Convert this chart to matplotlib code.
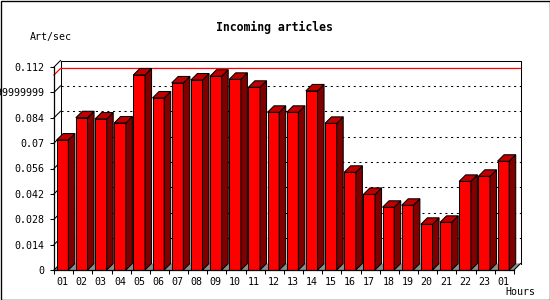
# Incoming articles per hour - 3D style bar chart

import numpy as np
import matplotlib.pyplot as plt
from matplotlib.patches import Polygon, Rectangle

hours = ['01', '02', '03', '04', '05', '06', '07', '08', '09', '10', '11', '12',
         '13', '14', '15', '16', '17', '18', '19', '20', '21', '22', '23', '01']
rates = [0.0717, 0.0840, 0.0833, 0.0811, 0.1076, 0.0949, 0.1032, 0.1048,
         0.1069, 0.1052, 0.1008, 0.0870, 0.0870, 0.0988, 0.0809, 0.0539,
         0.0417, 0.0346, 0.0357, 0.0252, 0.0263, 0.0489, 0.0517, 0.0600]
ytick_vals = [0, 0.014, 0.028, 0.042, 0.056, 0.07, 0.084, 0.098, 0.112]
ytick_labels = ['0', '0.014', '0.028', '0.042', '0.056', '0.07', '0.084',
                '0.09799999999999999', '0.112']

MONO = 'DejaVu Sans Mono'
W, H = 550, 300
depth_px = 6.5

fig = plt.figure(figsize=(W / 100, H / 100), dpi=100)
ax = fig.add_axes([54 / W, 30 / H, 460 / W, 203 / H])
ax.set_xlim(0, len(hours))
ax.set_ylim(0, 0.112)
ax.patch.set_visible(False)

# 3D offset expressed in data units
inv = ax.transData.inverted()
p0 = inv.transform(ax.transData.transform((0, 0)))
p1 = inv.transform(ax.transData.transform((0, 0)) + np.array([depth_px, depth_px]))
dx, dy = p1 - p0

n = len(hours)
ymax = ytick_vals[-1]
line_px = 0.75

# floor
ax.add_patch(Polygon([(0, 0), (n, 0), (n + dx, dy), (dx, dy)], closed=True,
                     facecolor='#8c8c8c', edgecolor='none', zorder=1, clip_on=False))

# back plane: dotted grid, borders, diagonals
for t in ytick_vals[1:-1]:
    ax.plot([dx, n + dx], [t + dy, t + dy], color='black', lw=line_px,
            linestyle=(0, (2, 3.5)), zorder=1, clip_on=False)
for t in ytick_vals:
    ax.plot([0, dx], [t, t + dy], color='black', lw=line_px, zorder=1, clip_on=False)
ax.plot([dx, n + dx, n + dx], [ymax + dy, ymax + dy, dy], color='black', lw=line_px,
        zorder=1, clip_on=False)
ax.plot([dx, dx], [dy, ymax + dy], color='black', lw=line_px, zorder=1, clip_on=False)
ax.plot([n, n + dx], [0, dy], color='black', lw=line_px, zorder=1, clip_on=False)

# max line in red
top = max(rates)
ax.plot([0, dx, n + dx], [top, top + dy, top + dy], color='red', lw=line_px * 1.2,
        zorder=1.5, clip_on=False)

# bars: front face, side and top
x = np.arange(n)
left = x + 0.14
width = 0.61
ax.bar(left, rates, width=width, align='edge', color='#ff0000',
       edgecolor='black', linewidth=line_px, zorder=3)
for xl, v in zip(left, rates):
    xr = xl + width
    ax.add_patch(Polygon([(xr, 0), (xr + dx, dy), (xr + dx, v + dy), (xr, v)],
                         closed=True, facecolor='#800000', edgecolor='black',
                         lw=line_px, zorder=3, clip_on=False))
    ax.add_patch(Polygon([(xl, v), (xr, v), (xr + dx, v + dy), (xl + dx, v + dy)],
                         closed=True, facecolor='#c00000', edgecolor='black',
                         lw=line_px, zorder=3, clip_on=False))

# axes
for s in ['top', 'right']:
    ax.spines[s].set_visible(False)
for s in ['left', 'bottom']:
    ax.spines[s].set_linewidth(line_px * 1.2)
    ax.spines[s].set_zorder(4)

ax.set_yticks(ytick_vals)
ax.set_yticklabels(ytick_labels, fontfamily=MONO, fontsize=7.2)
ax.tick_params(axis='y', length=3, width=line_px, pad=3.6)

ax.set_xticks(np.arange(n + 1))
ax.set_xticklabels([])
ax.set_xticks(left + width / 2, minor=True)
ax.set_xticklabels(hours, minor=True, fontfamily=MONO, fontsize=7.2)
ax.tick_params(axis='x', which='major', length=3, width=line_px)
ax.tick_params(axis='x', which='minor', length=0, pad=5)

# texts
fig.text(274 / W, 1 - 27 / H, 'Incoming articles', fontfamily=MONO, fontsize=8.3,
         fontweight='bold', ha='center', va='center')
fig.text(30 / W, 1 - 37 / H, 'Art/sec', fontfamily=MONO, fontsize=7.2,
         ha='left', va='center')
fig.text(505 / W, 1 - 292 / H, 'Hours', fontfamily=MONO, fontsize=7.2,
         ha='left', va='center')

# outer frame
fig.patches.append(Rectangle((0.5 / W, 0.5 / H), 549 / W, 299 / H, transform=fig.transFigure,
                             fill=False, edgecolor='black', lw=line_px * 1.3))

fig.savefig('out.png', dpi=100)
